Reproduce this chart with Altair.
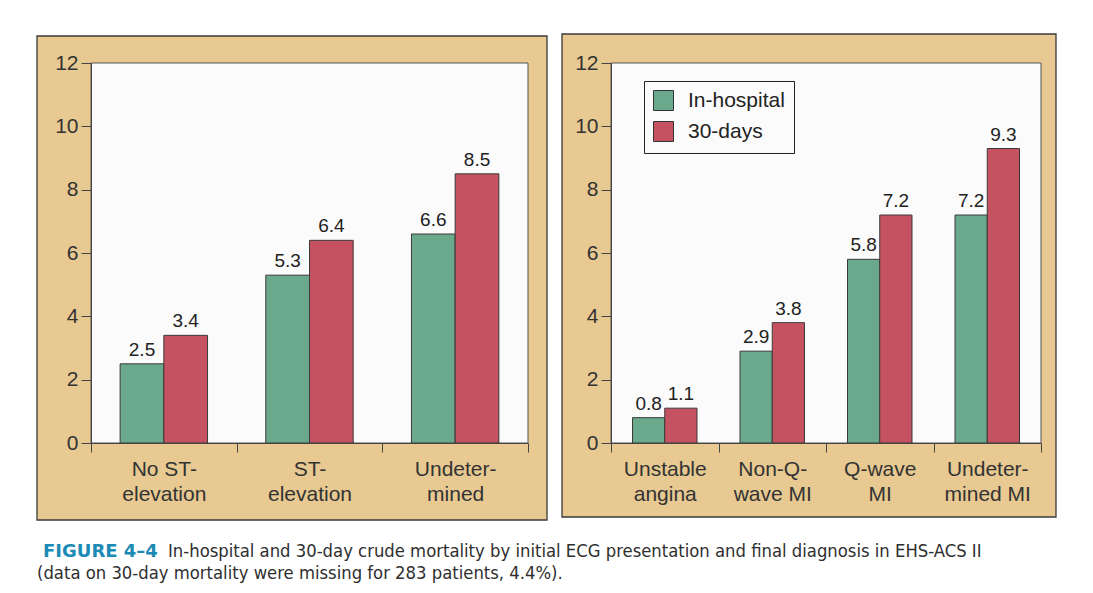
import altair as alt
import pandas as pd

# ---------------- data ----------------
left_categories = ["No ST-|elevation", "ST-|elevation", "Undeter-|mined"]
left_in_hospital = [2.5, 5.3, 6.6]
left_30_days = [3.4, 6.4, 8.5]

right_categories = ["Unstable|angina", "Non-Q-|wave MI", "Q-wave|MI", "Undeter-|mined MI"]
right_in_hospital = [0.8, 2.9, 5.8, 7.2]
right_30_days = [1.1, 3.8, 7.2, 9.3]

series_names = ["In-hospital", "30-days"]
series_colors = ["#6aa98b", "#c55260"]
y_ticks = [0, 2, 4, 6, 8, 10, 12]

caption_label = "FIGURE 4–4"
caption_line1 = ("In-hospital and 30-day crude mortality by initial ECG presentation "
                 "and final diagnosis in EHS-ACS II")
caption_line2 = "(data on 30-day mortality were missing for 283 patients, 4.4%)."

# ---------------- styling ----------------
TAN = "#e7c991"
PLOT_BG = "#fbfbfb"
EDGE = "#3a3a3a"
FONT = "Liberation Sans"
CAP_FONT = "DejaVu Sans Condensed"
H = 380


def make_df(cats, a, b):
    rows = []
    for c, v1, v2 in zip(cats, a, b):
        rows.append({"cat": c, "series": series_names[0], "value": v1})
        rows.append({"cat": c, "series": series_names[1], "value": v2})
    return pd.DataFrame(rows)


def panel(cats, a, b, width, frame, legend, extras=()):
    df = make_df(cats, a, b)
    one = pd.DataFrame({"k": [0]})

    frame_rect = alt.Chart(one).mark_rect(
        fill=TAN, stroke=EDGE, strokeWidth=1.3
    ).encode(
        x=alt.value(frame[0]), x2=alt.value(width + frame[1]),
        y=alt.value(frame[2]), y2=alt.value(H + frame[3]),
    )
    plot_rect = alt.Chart(one).mark_rect(
        fill=PLOT_BG, stroke="#555555", strokeWidth=1
    ).encode(
        x=alt.value(0), x2=alt.value(width), y=alt.value(0), y2=alt.value(H)
    )

    x_enc = alt.X(
        "cat:N", sort=cats,
        scale=alt.Scale(paddingInner=0, paddingOuter=0),
        axis=alt.Axis(
            title=None, labelAngle=0,
            labelExpr="isValid(datum.value) ? split(datum.value, '|') : ''",
            tickBand="extent", tickSize=9, labelFontSize=21, labelFont=FONT,
            labelLineHeight=25, labelPadding=6, labelColor="#333333",
            domainColor="#444444", tickColor="#444444", zindex=1,
        ),
    )
    xoff = alt.XOffset(
        "series:N", sort=series_names,
        scale=alt.Scale(paddingOuter=0.6667, paddingInner=0),
    )
    y_enc = alt.Y(
        "value:Q",
        scale=alt.Scale(domain=[0, 12], nice=False),
        axis=alt.Axis(
            values=y_ticks, title=None, grid=False, tickSize=10,
            labelFontSize=21, labelFont=FONT, labelPadding=3,
            labelColor="#333333", domainColor="#444444", tickColor="#444444",
            zindex=1,
        ),
    )
    bars = alt.Chart(df).mark_bar(stroke=EDGE, strokeWidth=1).encode(
        x=x_enc, xOffset=xoff, y=y_enc,
        color=alt.Color(
            "series:N",
            scale=alt.Scale(domain=series_names, range=series_colors),
            legend=legend,
        ),
    )
    labels = alt.Chart(df).mark_text(
        dy=-4, baseline="bottom", fontSize=19, font=FONT, color="#222222"
    ).encode(
        x=alt.X("cat:N", sort=cats),
        xOffset=alt.XOffset("series:N", sort=series_names),
        y="value:Q",
        text=alt.Text("value:Q", format=".1f"),
    )
    return alt.layer(frame_rect, plot_rect, bars, labels, *extras).properties(
        width=width, height=H
    )


cap_df1 = pd.DataFrame({"t": [caption_label]})
cap_df2 = pd.DataFrame({"t": [caption_line1]})
cap_df3 = pd.DataFrame({"t": [caption_line2]})

cap1 = alt.Chart(cap_df1).mark_text(
    align="left", baseline="alphabetic", font="DejaVu Sans", fontSize=18,
    fontWeight="bold", color="#1b8ab5"
).encode(x=alt.value(-48), y=alt.value(494), text="t:N")
cap2 = alt.Chart(cap_df2).mark_text(
    align="left", baseline="alphabetic", font=CAP_FONT, fontSize=18.3,
    color="#2f2f2f"
).encode(x=alt.value(77), y=alt.value(494), text="t:N")
cap3 = alt.Chart(cap_df3).mark_text(
    align="left", baseline="alphabetic", font=CAP_FONT, fontSize=18.3,
    color="#2f2f2f"
).encode(x=alt.value(-54), y=alt.value(516), text="t:N")

left = panel(left_categories, left_in_hospital, left_30_days, 437,
             (-54, 19, -27, 77), None, (cap1, cap2, cap3))

legend = alt.Legend(
    title=None, orient="none", legendX=33, legendY=18,
    symbolType="square", symbolSize=400, symbolStrokeColor="#333333",
    symbolStrokeWidth=1, symbolOpacity=1, labelFontSize=21, labelFont=FONT,
    labelColor="#222222", padding=9, strokeColor="#222222",
    fillColor="#fbfbfb", rowPadding=6, labelOffset=14,
)
right = panel(right_categories, right_in_hospital, right_30_days, 430,
              (-49, 15, -29, 74), legend)

chart = alt.hconcat(left, right, spacing=83, bounds="flush").resolve_scale(
    color="independent", x="independent", xOffset="independent"
).properties(
    background="white",
    padding={"left": 28, "top": 25, "right": 5, "bottom": 5},
).configure_view(stroke=None)

chart.save("out.html", embed_options={"renderer": "svg", "actions": False})
